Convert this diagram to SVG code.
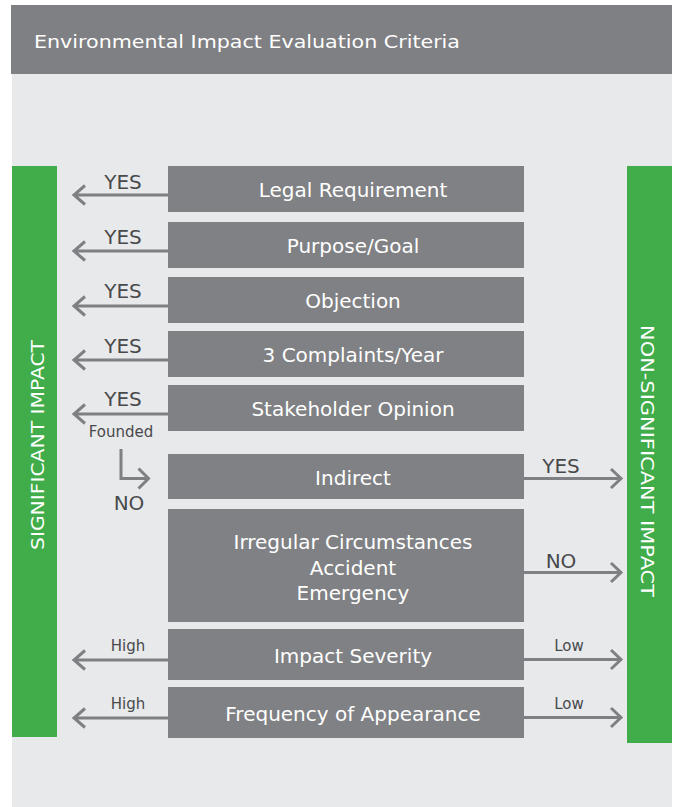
<svg xmlns="http://www.w3.org/2000/svg" width="675" height="807" viewBox="0 0 675 807">
<defs>
<style>
.box{fill:#808184}
.bar{fill:#40ad4a}
.bt{font-family:"DejaVu Sans",Verdana,sans-serif;font-size:20px;fill:#ffffff;text-anchor:middle}
.vt{font-family:"DejaVu Sans",Verdana,sans-serif;font-size:18px;fill:#ffffff;text-anchor:middle}
.lb{font-family:"DejaVu Sans",Verdana,sans-serif;font-size:20px;fill:#48494b;text-anchor:middle}
.sl{font-family:"DejaVu Sans",Verdana,sans-serif;font-size:15px;fill:#48494b;text-anchor:middle}
.ln{stroke:#7f8083;stroke-width:3;fill:none}
</style>
</defs>
<rect x="12" y="5" width="660" height="802" fill="#e8e9eb"/>
<g id="header">
<rect x="11" y="5" width="661" height="69" fill="#7f8083"/>
<text x="34" y="48" font-family="DejaVu Sans, Verdana, sans-serif" font-size="18.5" fill="#ffffff" textLength="426" lengthAdjust="spacingAndGlyphs">Environmental Impact Evaluation Criteria</text>
</g>
<g id="significant">
<rect class="bar" x="12" y="166" width="45" height="571"/>
<text class="vt" transform="translate(44,445) rotate(-90)" textLength="210" lengthAdjust="spacingAndGlyphs">SIGNIFICANT IMPACT</text>
</g>
<g id="non-significant">
<rect class="bar" x="627" y="166" width="45" height="577"/>
<text class="vt" transform="translate(641,461) rotate(90)" textLength="272" lengthAdjust="spacingAndGlyphs">NON-SIGNIFICANT IMPACT</text>
</g>
<g id="legal"><rect class="box" x="168" y="166" width="356" height="46"/><text class="bt" x="353" y="197">Legal Requirement</text></g>
<g id="purpose"><rect class="box" x="168" y="222" width="356" height="46"/><text class="bt" x="353" y="253">Purpose/Goal</text></g>
<g id="objection"><rect class="box" x="168" y="277" width="356" height="46"/><text class="bt" x="353" y="308">Objection</text></g>
<g id="complaints"><rect class="box" x="168" y="331" width="356" height="46"/><text class="bt" x="353" y="362">3 Complaints/Year</text></g>
<g id="stakeholder"><rect class="box" x="168" y="385" width="356" height="46"/><text class="bt" x="353" y="416">Stakeholder Opinion</text></g>
<g id="indirect"><rect class="box" x="168" y="454" width="356" height="45"/><text class="bt" x="353" y="485">Indirect</text></g>
<g id="irregular"><rect class="box" x="168" y="509" width="356" height="113"/>
<text class="bt" x="353" y="549">Irregular Circumstances</text>
<text class="bt" x="353" y="575">Accident</text>
<text class="bt" x="353" y="600">Emergency</text></g>
<g id="severity"><rect class="box" x="168" y="629" width="356" height="51"/><text class="bt" x="353" y="663">Impact Severity</text></g>
<g id="frequency"><rect class="box" x="168" y="687" width="356" height="51"/><text class="bt" x="353" y="721">Frequency of Appearance</text></g>
<g id="connectors">
<path class="ln" d="M168 195H75M85 185.5L74 195L85 204.5"/>
<path class="ln" d="M168 251H75M85 241.5L74 251L85 260.5"/>
<path class="ln" d="M168 306H75M85 296.5L74 306L85 315.5"/>
<path class="ln" d="M168 360H75M85 350.5L74 360L85 369.5"/>
<path class="ln" d="M168 414H75M85 404.5L74 414L85 423.5"/>
<path class="ln" d="M121 449V478.5H147M138.5 468.5L148.5 478.5L138.5 488.5"/>
<path class="ln" d="M524 478.5H620M611 469L621 478.5L611 488"/>
<path class="ln" d="M524 572.5H620M611 563L621 572.5L611 582"/>
<path class="ln" d="M168 660H75M85 650.5L74 660L85 669.5"/>
<path class="ln" d="M168 718H75M85 708.5L74 718L85 727.5"/>
<path class="ln" d="M524 659.5H620M611 650L621 659.5L611 669"/>
<path class="ln" d="M524 717.5H620M611 708L621 717.5L611 727"/>
<text class="lb" x="123" y="189">YES</text>
<text class="lb" x="123" y="244">YES</text>
<text class="lb" x="123" y="298">YES</text>
<text class="lb" x="123" y="353">YES</text>
<text class="lb" x="123" y="406">YES</text>
<text class="sl" x="121" y="437">Founded</text>
<text class="lb" x="129" y="510">NO</text>
<text class="lb" x="561" y="473">YES</text>
<text class="lb" x="561" y="568">NO</text>
<text class="sl" x="128" y="651">High</text>
<text class="sl" x="128" y="709">High</text>
<text class="sl" x="569" y="651">Low</text>
<text class="sl" x="569" y="709">Low</text>
</g>
</svg>
